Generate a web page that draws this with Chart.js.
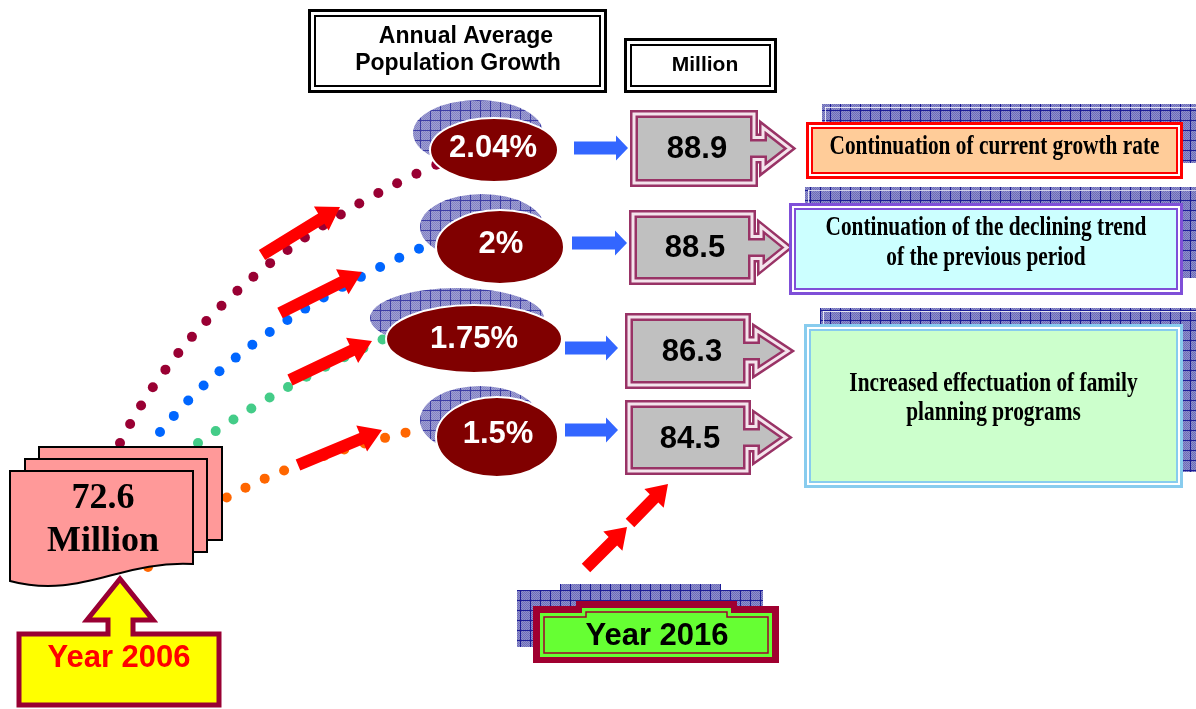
<!DOCTYPE html>
<html>
<head>
<meta charset="utf-8">
<script src="https://cdn.jsdelivr.net/npm/chart.js@4.4.1/dist/chart.umd.min.js"></script>
<style>
html, body { margin: 0; padding: 0; background: #fff; overflow: hidden; }
canvas { display: block; }
</style>
</head>
<body>
<canvas id="myChart" width="1196" height="709"></canvas>
<script>
// values
var growthRates = [2.04, 2, 1.75, 1.5];          // annual average growth, %
var population2016 = [88.9, 88.5, 86.3, 84.5];   // million
var basePopulation = 72.6;                       // million, 2006
var baseYear = 'Year 2006';
var targetYear = 'Year 2016';
var headerLabels = [['Annual Average', 'Population Growth'], ['Million']];
var scenarioLabels = [
    ['Continuation of current growth rate'],
    ['Continuation of the declining trend', 'of the previous period'],
    ['Increased effectuation of family', 'planning programs']
];

// layout of the drawing (pixels of the 1196 x 709 sheet)
var dotColors = ['#990033', '#0066ff', '#44cc88', '#ff6600'];
var curves = [
    [[120, 443], [210, 265], [440, 163]],
    [[160, 432], [250, 322], [432, 243]],
    [[198, 443], [290, 380], [386, 338]],
    [[148, 567], [200, 480], [425, 428]]
];
var ovals = [
    { cx: 494, cy: 150, rx: 64, ry: 32, bx: 478, by: 133, brx: 65, bry: 33, tx: 493, ty: 148 },
    { cx: 500, cy: 247, rx: 64, ry: 37, bx: 482, by: 227, brx: 62, bry: 33, tx: 501, ty: 244 },
    { cx: 474, cy: 339, rx: 88, ry: 34, bx: 457, by: 318, brx: 87, bry: 30, tx: 474, ty: 339 },
    { cx: 497, cy: 437, rx: 61, ry: 40, bx: 480, by: 420, brx: 60, bry: 34, tx: 498, ty: 434 }
];
var redArrows = [
    [262, 255, 340, 207], [280, 313, 362, 272], [290, 380, 372, 341], [298, 465, 382, 430],
    [586, 568, 627, 527], [630, 523, 668, 484]
];
var blueArrows = [[574, 148, 628], [572, 243, 627], [565, 348, 618], [565, 430, 618]];
var numBoxes = [
    { x1: 634, y1: 114, x2: 754, y2: 183, tip: 790, tx: 697, ty: 149 },
    { x1: 633, y1: 214, x2: 752, y2: 281, tip: 787, tx: 695, ty: 248 },
    { x1: 629, y1: 317, x2: 747, y2: 385, tip: 788, tx: 692, ty: 352 },
    { x1: 629, y1: 404, x2: 747, y2: 471, tip: 786, tx: 690, ty: 439 }
];
var scenBoxes = [
    { x1: 806, y1: 122, x2: 1183, y2: 179, hx: 822, hy1: 104, hy2: 163, border: '#ff0000', fill: '#ffcc99', base: [154] },
    { x1: 789, y1: 203, x2: 1183, y2: 295, hx: 805, hy1: 187, hy2: 278, border: '#7f4fd8', fill: '#ccffff', base: [235, 265] },
    { x1: 804, y1: 324, x2: 1183, y2: 488, hx: 820, hy1: 308, hy2: 472, border: '#88ccee', fill: '#ccffcc', base: [391, 420] }
];

function makeHatch(c) {
    var p = document.createElement('canvas');
    p.width = 10; p.height = 10;
    var g = p.getContext('2d');
    g.fillStyle = '#9090cc';
    g.fillRect(0, 0, 10, 10);
    g.fillStyle = '#6c6cb8';
    for (var i = 0; i < 10; i++) {
        for (var j = 0; j < 10; j++) {
            if ((i + j) % 2 === 0) g.fillRect(i, j, 1, 1);
        }
    }
    g.fillStyle = '#1c1c96';
    g.fillRect(0, 0, 10, 1);
    g.fillRect(0, 0, 1, 10);
    return c.createPattern(p, 'repeat');
}

var infographic = {
    id: 'infographic',
    beforeDraw: function(chart) {
        var c = chart.ctx;
        c.save();
        c.fillStyle = '#ffffff';
        c.fillRect(0, 0, chart.width, chart.height);
        c.restore();
    },
    afterDraw: function(chart) {
        var c = chart.ctx;
        var xs = chart.scales.x, ys = chart.scales.y;
        var X = function(v) { return xs.getPixelForValue(v); };
        var Y = function(v) { return ys.getPixelForValue(v); };
        var hatch = makeHatch(c);

        function poly(pts) {
            c.beginPath();
            c.moveTo(X(pts[0][0]), Y(pts[0][1]));
            for (var i = 1; i < pts.length; i++) c.lineTo(X(pts[i][0]), Y(pts[i][1]));
            c.closePath();
        }
        function thickArrow(x1, y1, x2, y2, shaft, head, headLen, color) {
            x1 = X(x1); y1 = Y(y1); x2 = X(x2); y2 = Y(y2);
            var dx = x2 - x1, dy = y2 - y1, L = Math.hypot(dx, dy);
            var ux = dx / L, uy = dy / L, px = -uy, py = ux;
            var bx = x2 - ux * headLen, by = y2 - uy * headLen;
            c.beginPath();
            c.moveTo(x1 + px * shaft / 2, y1 + py * shaft / 2);
            c.lineTo(bx + px * shaft / 2, by + py * shaft / 2);
            c.lineTo(bx + px * head / 2, by + py * head / 2);
            c.lineTo(x2, y2);
            c.lineTo(bx - px * head / 2, by - py * head / 2);
            c.lineTo(bx - px * shaft / 2, by - py * shaft / 2);
            c.lineTo(x1 - px * shaft / 2, y1 - py * shaft / 2);
            c.closePath();
            c.fillStyle = color;
            c.fill();
        }
        function doubleRect(x1, y1, x2, y2, border, fill, outer, gap, inner) {
            var L = X(x1), T = Y(y1), W = X(x2) - L, H = Y(y2) - T;
            c.fillStyle = border; c.fillRect(L, T, W, H);
            var o = outer;
            c.fillStyle = '#ffffff'; c.fillRect(L + o, T + o, W - 2 * o, H - 2 * o);
            o += gap;
            c.fillStyle = border; c.fillRect(L + o, T + o, W - 2 * o, H - 2 * o);
            o += inner;
            c.fillStyle = fill; c.fillRect(L + o, T + o, W - 2 * o, H - 2 * o);
        }
        function text(str, x, y, font, color, sx) {
            c.save();
            c.font = font;
            c.fillStyle = color;
            c.textAlign = 'center';
            c.textBaseline = 'middle';
            c.translate(X(x), Y(y));
            if (sx) c.scale(sx, 1);
            c.fillText(str, 0, 0);
            c.restore();
        }

        c.save();

        // dotted curves from the 2006 figure
        curves.forEach(function(cv, k) {
            var p0 = cv[0], p1 = cv[1], p2 = cv[2];
            var prev = null, acc = 0;
            c.fillStyle = dotColors[k];
            for (var t = 0; t <= 1.0001; t += 0.002) {
                var a = (1 - t) * (1 - t), b = 2 * (1 - t) * t, d = t * t;
                var px = a * p0[0] + b * p1[0] + d * p2[0];
                var py = a * p0[1] + b * p1[1] + d * p2[1];
                if (prev) acc += Math.hypot(px - prev[0], py - prev[1]);
                if (!prev || acc >= 21) {
                    c.beginPath();
                    c.arc(X(px), Y(py), 5, 0, Math.PI * 2);
                    c.fill();
                    acc = 0;
                }
                prev = [px, py];
            }
        });

        // red arrows towards the growth rates
        redArrows.slice(0, 4).forEach(function(a) {
            thickArrow(a[0], a[1], a[2], a[3], 12, 28, 22, '#ff0000');
        });

        // growth rate ovals
        ovals.forEach(function(o, i) {
            c.save();
            c.globalAlpha = 0.85;
            c.beginPath();
            c.ellipse(X(o.bx), Y(o.by), o.brx, o.bry, 0, 0, Math.PI * 2);
            c.fillStyle = hatch;
            c.fill();
            c.restore();
            c.beginPath();
            c.ellipse(X(o.cx), Y(o.cy), o.rx, o.ry, 0, 0, Math.PI * 2);
            c.fillStyle = '#800000';
            c.fill();
            c.lineWidth = 2;
            c.strokeStyle = '#ffffff';
            c.stroke();
            text(growthRates[i] + '%', o.tx, o.ty, 'bold 31px "Liberation Sans", Arial, sans-serif', '#ffffff');
        });

        // header boxes
        doubleRect(308, 9, 607, 93, '#000000', '#ffffff', 3, 3, 2);
        text(headerLabels[0][0], 466, 37, 'bold 23px "Liberation Sans", Arial, sans-serif', '#000000');
        text(headerLabels[0][1], 458, 64, 'bold 23px "Liberation Sans", Arial, sans-serif', '#000000');
        doubleRect(624, 38, 777, 93, '#000000', '#ffffff', 3, 3, 2);
        text(headerLabels[1][0], 705, 65, 'bold 21px "Liberation Sans", Arial, sans-serif', '#000000');

        // blue arrows
        blueArrows.forEach(function(a) {
            thickArrow(a[0], a[1], a[2], a[1], 13, 25, 12, '#3366ff');
        });

        // population boxes
        numBoxes.forEach(function(b, i) {
            var cy = (b.y1 + b.y2) / 2;
            var pts = [[b.x1, b.y1], [b.x2, b.y1], [b.x2, cy - 11], [b.x2 + 9, cy - 11], [b.x2 + 9, cy - 21],
                [b.tip, cy], [b.x2 + 9, cy + 21], [b.x2 + 9, cy + 11], [b.x2, cy + 11], [b.x2, b.y2], [b.x1, b.y2]];
            c.lineJoin = 'miter';
            poly(pts);
            c.fillStyle = '#c0c0c0';
            c.fill();
            c.lineWidth = 8;
            c.strokeStyle = '#993366';
            c.stroke();
            c.lineWidth = 3;
            c.strokeStyle = '#f4e4ec';
            c.stroke();
            text(population2016[i].toFixed(1), b.tx, b.ty, 'bold 31px "Liberation Sans", Arial, sans-serif', '#000000');
        });

        // scenario boxes
        var scenFont = 'bold 27px "Liberation Serif", "Times New Roman", serif';
        c.font = scenFont;
        var squeeze = 330 / c.measureText(scenarioLabels[0][0]).width;
        scenBoxes.forEach(function(s, i) {
            c.fillStyle = hatch;
            c.fillRect(X(s.hx), Y(s.hy1), X(1200) - X(s.hx), Y(s.hy2) - Y(s.hy1));
            c.fillStyle = 'rgba(255,255,255,0.8)';
            c.fillRect(X(s.hx) + 3, Y(s.hy1) + 3, X(1200) - X(s.hx), 1);
            c.fillRect(X(s.hx) + 3, Y(s.hy1) + 3, 1, Y(s.hy2) - Y(s.hy1));
            doubleRect(s.x1, s.y1, s.x2, s.y2, s.border, s.fill, 3, 2, 2);
            var cx = (s.x1 + s.x2) / 2;
            scenarioLabels[i].forEach(function(line, j) {
                c.save();
                c.font = scenFont;
                c.fillStyle = '#000000';
                c.textAlign = 'center';
                c.textBaseline = 'alphabetic';
                c.translate(X(cx), Y(s.base[j]));
                c.scale(squeeze, 1);
                c.fillText(line, 0, 0);
                c.restore();
            });
        });

        // 2006 population sheets
        c.lineWidth = 2;
        c.strokeStyle = '#000000';
        c.fillStyle = '#ff9999';
        [[39, 447, 222, 540], [25, 459, 207, 552]].forEach(function(r) {
            c.fillRect(X(r[0]), Y(r[1]), X(r[2]) - X(r[0]), Y(r[3]) - Y(r[1]));
            c.strokeRect(X(r[0]), Y(r[1]), X(r[2]) - X(r[0]), Y(r[3]) - Y(r[1]));
        });
        c.beginPath();
        c.moveTo(X(10), Y(581));
        c.lineTo(X(10), Y(471));
        c.lineTo(X(193), Y(471));
        c.lineTo(X(193), Y(564));
        c.bezierCurveTo(X(120), Y(560), X(80), Y(600), X(10), Y(581));
        c.closePath();
        c.fill();
        c.stroke();
        text(basePopulation.toFixed(1), 103, 499, 'bold 36px "Liberation Serif", "Times New Roman", serif', '#000000');
        text('Million', 103, 542, 'bold 36px "Liberation Serif", "Times New Roman", serif', '#000000');

        // Year 2006 callout
        poly([[19, 634], [108, 634], [108, 620], [87, 620], [120, 579], [153, 620], [133, 620], [133, 634],
            [219, 634], [219, 705], [19, 705]]);
        c.fillStyle = '#ffff00';
        c.fill();
        c.lineWidth = 5;
        c.strokeStyle = '#990033';
        c.stroke();
        text(baseYear, 119, 658, 'bold 31px "Liberation Sans", Arial, sans-serif', '#ff0000');

        // Year 2016 box and arrows
        redArrows.slice(4).forEach(function(a) {
            thickArrow(a[0], a[1], a[2], a[3], 12, 27, 20, '#ff0000');
        });
        poly([[517, 590], [560, 590], [560, 584], [721, 584], [721, 590], [763, 590], [763, 647], [517, 647]]);
        c.fillStyle = hatch;
        c.fill();
        poly([[533, 606], [576, 606], [576, 601], [737, 601], [737, 606], [779, 606], [779, 663], [533, 663]]);
        c.fillStyle = '#a00030';
        c.fill();
        poly([[540, 613], [582, 613], [582, 608], [731, 608], [731, 613], [772, 613], [772, 657], [540, 657]]);
        c.fillStyle = '#66ff33';
        c.fill();
        poly([[544, 617], [586, 617], [586, 612], [727, 612], [727, 617], [768, 617], [768, 653], [544, 653]]);
        c.lineWidth = 1.5;
        c.strokeStyle = '#a00030';
        c.stroke();
        text(targetYear, 657, 636, 'bold 31px "Liberation Sans", Arial, sans-serif', '#000000');

        c.restore();
    }
};

var ctx = document.getElementById('myChart').getContext('2d');
var myChart = new Chart(ctx, {
    type: 'scatter',
    data: { datasets: [] },
    options: {
        responsive: false,
        animation: false,
        layout: { padding: 0 },
        scales: {
            x: { type: 'linear', min: 0, max: 1196, display: false },
            y: { type: 'linear', min: 0, max: 709, reverse: true, display: false }
        },
        plugins: {
            legend: { display: false },
            tooltip: { enabled: false }
        }
    },
    plugins: [infographic]
});
</script>
</body>
</html>
